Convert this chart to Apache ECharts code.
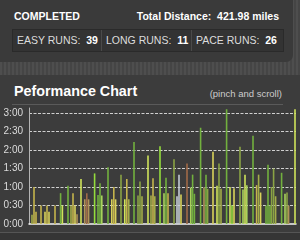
<!DOCTYPE html>
<html>
<head>
<meta charset="utf-8">
<script src="https://cdn.jsdelivr.net/npm/echarts@6/dist/echarts.min.js"></script>
<style>
  html, body { margin: 0; padding: 0; width: 300px; height: 240px; overflow: hidden; background: #4a4a4a; font-family: "Liberation Sans", Arial, sans-serif; }
  .stripes { position: absolute; left: 0; top: 0; width: 300px; height: 240px; background: repeating-linear-gradient(90deg, #4e4e4e 0 2px, #454545 2px 4px); }
  .top { position: absolute; left: -8px; top: -8px; width: 301px; height: 70px; background: #3a3a3a; border-radius: 7px; }
  .txt { position: absolute; white-space: pre; color: #fff; }
  .stats { position: absolute; left: 12px; top: 29px; width: 270px; height: 21px; background: #333; border: 1px solid #2a2a2a; }
  .cell { position: absolute; top: 0; height: 21px; line-height: 21px; font-size: 10.5px; color: #ddd; white-space: pre; }
  .cell b { color: #fff; }
  .div { position: absolute; top: 0; width: 1px; height: 21px; background: #4a4a4a; }
  .panel { position: absolute; left: 0; top: 75px; width: 300px; height: 157px; background: #3c3c3c; }
  .sep { position: absolute; left: 12px; top: 104px; width: 271px; height: 1px; background: #5a5a5a; }
  .bottom { position: absolute; left: 0; top: 232px; width: 300px; height: 8px; background: #353535; border-top: 1px solid #555; }
  #chart { position: absolute; left: 0; top: 0; width: 300px; height: 240px; }
</style>
</head>
<body>
<div class="stripes"></div>
<div class="top"></div>
<div class="txt" style="left:14px;top:10px;font-size:10.5px;font-weight:bold;">COMPLETED</div>
<div class="txt" style="right:21px;top:10px;font-size:10.5px;font-weight:bold;">Total Distance:  421.98 miles</div>
<div class="stats">
  <div class="cell" style="left:4px;">EASY RUNS:  <b>39</b></div>
  <div class="div" style="left:88px;"></div>
  <div class="cell" style="left:93px;">LONG RUNS:  <b>11</b></div>
  <div class="div" style="left:178px;"></div>
  <div class="cell" style="left:183px;">PACE RUNS:  <b>26</b></div>
</div>
<div class="panel"></div>
<div class="txt" style="left:14px;top:83px;font-size:14.3px;font-weight:bold;">Peformance Chart</div>
<div class="txt" style="right:18px;top:88px;font-size:9.5px;color:#ccc;">(pinch and scroll)</div>
<div class="sep"></div>
<div class="bottom"></div>
<div id="chart"></div>
<script>
// day of each run (from start of the block)
var runDays = [1.5, 2.5, 3.5, 6, 8, 9, 10, 13, 15.8, 16.7, 19.5, 21, 22, 23, 24, 26, 27.9, 28.9, 29.8,
  32.8, 34.5, 35.5, 36.4, 39.5, 41.4, 42.4, 43.3, 46, 47.9, 48.9, 49.9, 52.5, 54.5, 55.5, 56.5,
  59.5, 61, 62, 62.9, 65.5, 67.5, 68.5, 69.5, 72.5, 74, 75, 76, 79, 80.9, 81.8, 82.7, 85.8, 87.5,
  88.5, 89.3, 92, 94, 95, 96, 98.8, 100.5, 101.5, 102.5, 105.5, 107, 108, 108.9, 112, 113.8,
  114.8, 115.8, 118.5, 119.5, 120.5, 121.3, 122.3, 123.3, 126.3, 128, 129, 129.8, 133];
// run duration in minutes
var runMinutes = [15, 60, 20, 30, 20, 30, 20, 30, 50, 30, 62, 30, 50, 30, 16, 73, 40, 50, 40,
  82, 47, 66, 46, 92, 40, 60, 40, 80, 40, 73, 40, 133, 46, 69, 45,
  111, 46, 74, 45, 126, 50, 75, 50, 105, 45, 80, 48, 98, 59, 80, 49, 156, 59,
  80, 57, 117, 62, 98, 57, 186, 60, 30, 58, 125, 56, 80, 63, 143, 63,
  80, 51, 30, 96, 30, 60, 90, 45, 83, 49, 51, 30, 186];
// colour shade index of each bar
var runShade = [0, 1, 1, 1, 2, 1, 2, 1, 3, 9, 3, 0, 1, 2, 7, 9, 7, 6, 7,
  4, 3, 3, 5, 3, 2, 1, 2, 10, 9, 1, 0, 3, 10, 10, 0,
  9, 0, 1, 0, 4, 5, 3, 1, 10, 8, 8, 2, 6, 5, 3, 3, 3, 7,
  3, 10, 2, 9, 10, 0, 3, 9, 4, 2, 10, 5, 9, 5, 3, 1,
  0, 2, 3, 3, 3, 10, 10, 0, 3, 5, 10, 7, 9];
var shadeColors = ['#a3ad48', '#c4b44c', '#d9d25a', '#72b03e', '#94dc3c', '#a8d25c',
  '#a06a48', '#b09458', '#c4ccd4', '#cfe35a', '#8aa344'];
var yTickLabels = ['0:00', '0:30', '1:00', '1:30', '2:00', '2:30', '3:00'];

var barData = runDays.map(function (d, i) {
  return { value: [d, runMinutes[i]], itemStyle: { color: shadeColors[runShade[i]] } };
});

var myChart = echarts.init(document.getElementById('chart'));
myChart.setOption({
  animation: false,
  backgroundColor: 'transparent',
  grid: { left: 29, right: 4, top: 108, bottom: 16 },
  xAxis: {
    type: 'value', min: 0, max: 133.5,
    axisLine: { show: true, onZero: false, lineStyle: { color: '#f4f4f4', width: 1.5 } },
    axisTick: { show: false },
    axisLabel: { show: false },
    splitLine: { show: false }
  },
  yAxis: {
    type: 'value', min: 0, max: 188, interval: 30,
    axisLine: { show: true, lineStyle: { color: '#b4b4b4', width: 1 } },
    axisTick: { show: false },
    axisLabel: {
      color: '#dcdcdc', fontSize: 10, margin: 6, fontFamily: 'Liberation Sans',
      formatter: function (v) { return v % 30 === 0 ? yTickLabels[v / 30] : ''; }
    },
    splitLine: { show: true, showMaxLine: false, showMinLine: false, lineStyle: { color: '#d0d0d0', type: [3, 1.5], width: 1 } }
  },
  series: [{
    type: 'bar',
    barWidth: 1.6,
    data: barData
  }]
});
</script>
</body>
</html>
